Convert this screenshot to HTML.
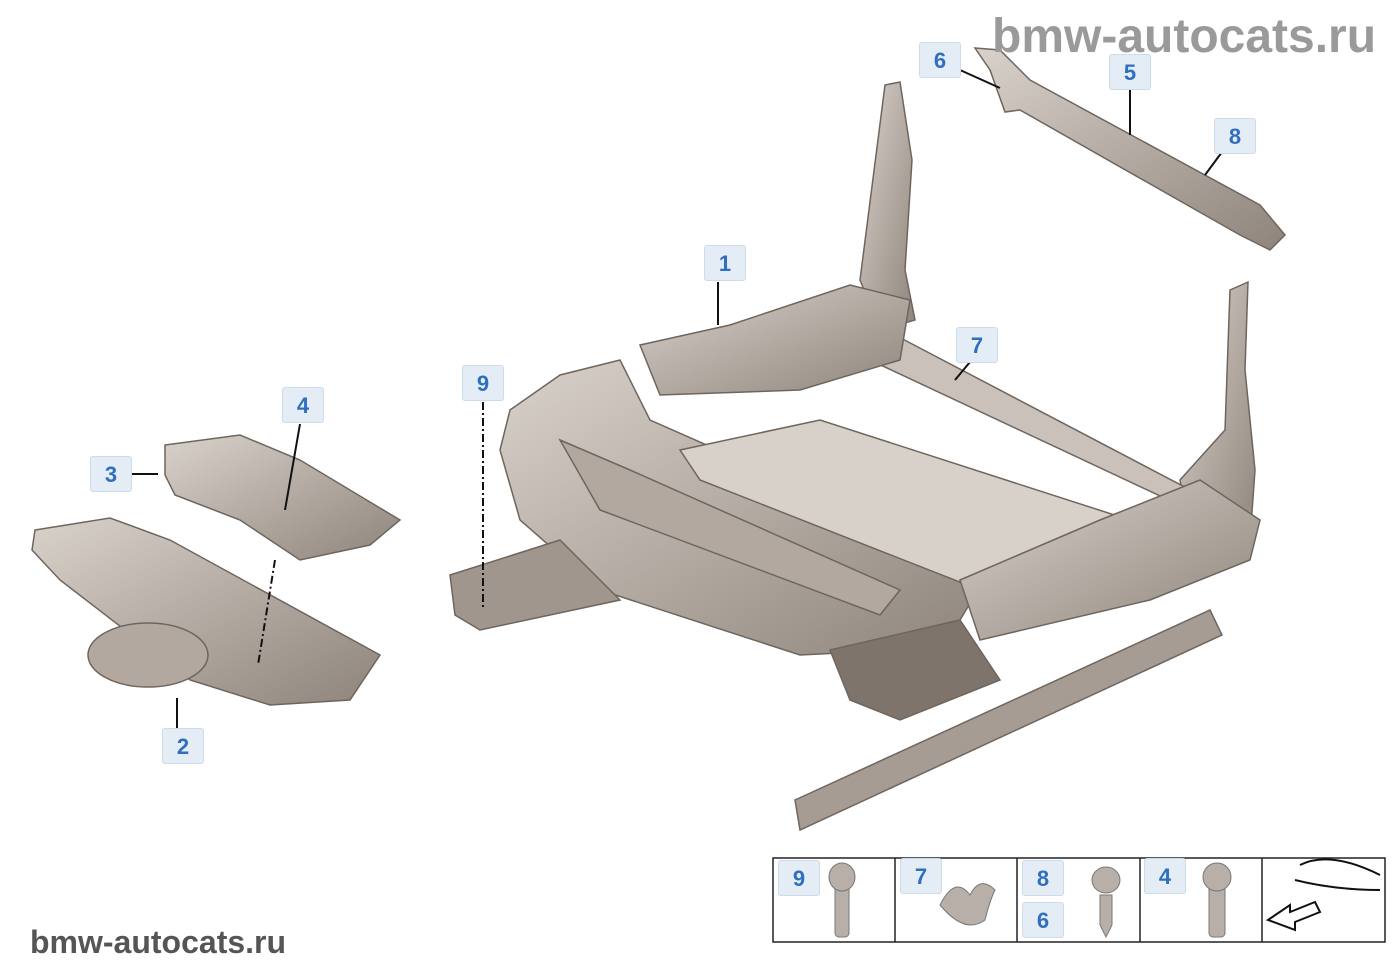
<!DOCTYPE html>
<html><head><meta charset="utf-8"><style>
html,body{margin:0;padding:0;background:#fff;}
body{width:1400px;height:980px;position:relative;overflow:hidden;font-family:"Liberation Sans",sans-serif;}
.l{position:absolute;width:42px;height:36px;background:#e4ecf6;border:1px solid #cddbeb;border-radius:3px;color:#2f6fbf;font-weight:bold;font-size:22px;line-height:36px;text-align:center;box-sizing:border-box;}
.wm{position:absolute;color:#9a9a9a;font-weight:bold;}
</style></head><body>
<svg width="1400" height="980" style="position:absolute;left:0;top:0">
<defs>
<linearGradient id="g" x1="0" y1="0" x2="1" y2="1"><stop offset="0" stop-color="#d9d2cb"/><stop offset="1" stop-color="#8e847b"/></linearGradient>
</defs>
<g stroke="#6e655e" stroke-width="1.5" fill="url(#g)">
<polygon points="975,48 1000,50 1030,80 1260,205 1285,235 1270,250 1240,235 1020,110 1005,112 990,70"/>
<polygon points="885,85 900,82 912,160 905,270 915,320 880,330 860,280"/>
<polygon points="1230,290 1248,282 1245,370 1255,470 1250,540 1195,560 1180,480 1225,430"/>
<polygon points="880,340 895,335 1200,495 1190,510 870,360" fill="#c9c1ba"/>
<polygon points="640,345 730,325 850,285 910,300 900,360 800,390 660,395"/>
<polygon points="510,410 560,375 620,360 650,420 990,570 960,620 900,650 800,655 600,590 520,520 500,450" fill="url(#g)"/>
<polygon points="560,440 630,470 900,590 880,615 600,510" fill="#b2a89f"/>
<polygon points="680,450 820,420 1130,520 1150,560 980,590 700,480" fill="#d8d1ca"/>
<polygon points="960,580 1100,520 1200,480 1260,520 1250,560 1150,600 980,640"/>
<polygon points="450,575 560,540 580,560 620,600 480,630 455,615" fill="#a0968d"/>
<polygon points="795,800 1210,610 1222,635 800,830" fill="#a69c93"/>
<polygon points="830,650 960,620 1000,680 900,720 850,700" fill="#7e746c"/>
<polygon points="35,530 110,518 170,540 380,655 350,700 270,705 190,680 60,580 32,550"/>
<ellipse cx="148" cy="655" rx="60" ry="32" fill="#b2a89f"/>
<polygon points="165,445 240,435 300,460 400,520 370,545 300,560 240,520 175,495 165,475"/>
</g>
<g stroke="#111" stroke-width="2" fill="none">
<line x1="1000" y1="88" x2="960" y2="70"/>
<line x1="1130" y1="90" x2="1130" y2="135"/>
<line x1="1222" y1="152" x2="1205" y2="175"/>
<line x1="718" y1="282" x2="718" y2="325"/>
<line x1="970" y1="362" x2="955" y2="380"/>
<line x1="483" y1="402" x2="483" y2="610" stroke-dasharray="8,3,2,3"/>
<line x1="300" y1="424" x2="285" y2="510"/>
<line x1="275" y1="560" x2="258" y2="665" stroke-dasharray="8,3,2,3"/>
<line x1="131" y1="474" x2="158" y2="474"/>
<line x1="177" y1="698" x2="177" y2="728"/>
</g>
<g stroke="#222" stroke-width="1.5" fill="none">
<rect x="773" y="858" width="612" height="84"/>
<line x1="895" y1="858" x2="895" y2="942"/>
<line x1="1017" y1="858" x2="1017" y2="942"/>
<line x1="1140" y1="858" x2="1140" y2="942"/>
<line x1="1262" y1="858" x2="1262" y2="942"/>
</g>
<g fill="#b8b0a8" stroke="#777">
<rect x="835" y="885" width="14" height="52" rx="4"/><ellipse cx="842" cy="877" rx="13" ry="14"/>
<path d="M940,905 q15,-30 30,-10 q10,-20 25,-5 q-5,10 -10,30 q-20,15 -45,-15z"/>
<polygon points="1100,895 1112,895 1112,925 1106,937 1100,925"/><ellipse cx="1106" cy="880" rx="14" ry="13"/>
<rect x="1209" y="885" width="16" height="52" rx="4"/><ellipse cx="1217" cy="877" rx="14" ry="14"/>
</g>
<g stroke="#111" stroke-width="2" fill="none">
<path d="M1300,865 q30,-15 80,10 M1295,880 q40,10 85,10"/>
<polygon points="1268,920 1290,905 1290,912 1315,902 1320,912 1295,922 1295,930" fill="#fff"/>
</g>
</svg>
<div class="l" style="left:919px;top:42px">6</div>
<div class="l" style="left:1109px;top:54px">5</div>
<div class="l" style="left:1214px;top:118px">8</div>
<div class="l" style="left:704px;top:245px">1</div>
<div class="l" style="left:956px;top:327px">7</div>
<div class="l" style="left:462px;top:365px">9</div>
<div class="l" style="left:282px;top:387px">4</div>
<div class="l" style="left:90px;top:456px">3</div>
<div class="l" style="left:162px;top:728px">2</div>
<div class="l" style="left:778px;top:860px">9</div>
<div class="l" style="left:900px;top:858px">7</div>
<div class="l" style="left:1022px;top:860px">8</div>
<div class="l" style="left:1022px;top:902px">6</div>
<div class="l" style="left:1144px;top:858px">4</div>
<div class="wm" style="left:992px;top:9px;font-size:48px">bmw-autocats.ru</div>
<div class="wm" style="left:30px;top:924px;font-size:32px;color:#555">bmw-autocats.ru</div>
</body></html>
